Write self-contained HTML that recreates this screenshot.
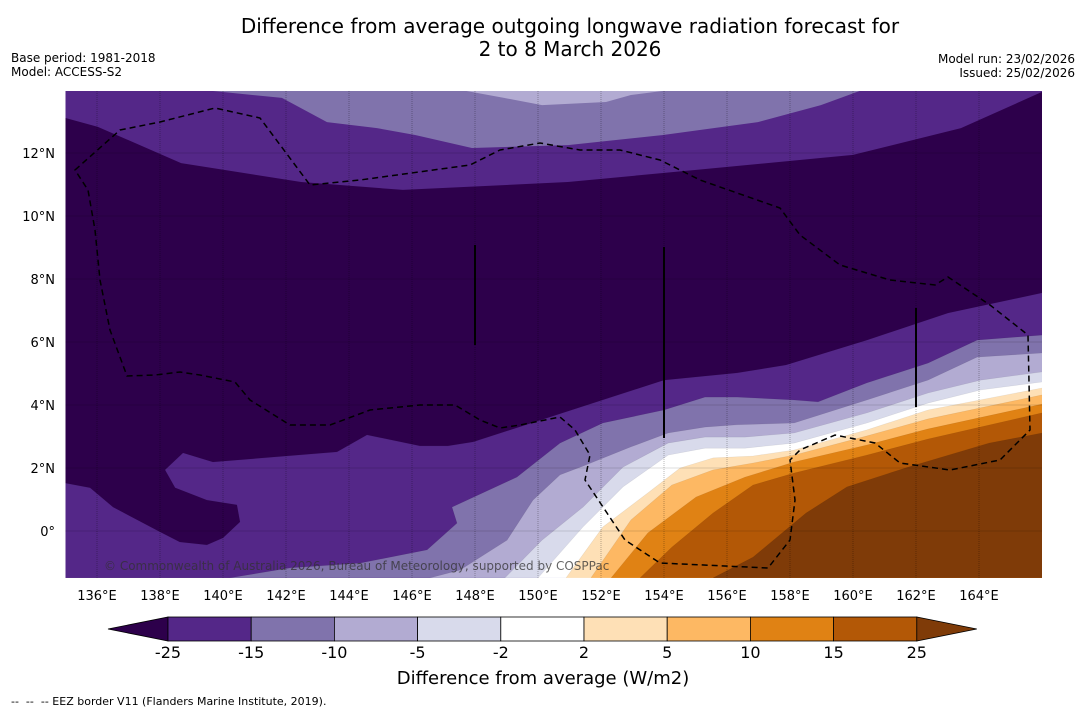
<!DOCTYPE html>
<html><head><meta charset="utf-8"><style>
body{margin:0;background:#fff;width:1085px;height:713px;overflow:hidden;font-family:"DejaVu Sans","Liberation Sans",sans-serif;}
svg{position:absolute;left:0;top:0;font-family:"DejaVu Sans","Liberation Sans",sans-serif;}
</style></head><body>
<svg id="chart" width="1085" height="713"></svg>
<script>
const levels=[-25,-15,-10,-5,-2,2,5,10,15,25];
const bandColors=["#2d004b","#542788","#8073ac","#b2abd2","#d8daeb","#ffffff","#fee0b6","#fdb863","#e08214","#b35806","#7f3b08"];
const lonTicks=[136,138,140,142,144,146,148,150,152,154,156,158,160,162,164];
const latTicks=[0,2,4,6,8,10,12];
// south-east contours (lon/lat), filled toward bottom-right
const c1=[[135,1.52],[135.78,1.37],[136.51,0.76],[138.0,-0.03],[138.63,-0.35],[139.49,-0.44],[140.0,-0.22],[140.54,0.29],[140.44,0.83],[139.49,0.98],[138.48,1.37],[138.16,1.94],[138.73,2.48],[139.68,2.19],[143.62,2.51],[144.57,3.05],[146.25,2.70],[147.14,2.70],[147.94,2.83],[150.38,3.62],[154.0,4.79],[156.32,5.02],[157.87,5.27],[160.44,6.06],[163.02,6.92],[166,7.56]];
const c2=[[140.22,-1.49],[142.13,-1.17],[144.35,-1.02],[146.48,-0.60],[147.43,0.25],[147.27,0.76],[149.33,1.71],[150.70,2.79],[152.06,3.43],[154.0,3.84],[155.30,4.25],[156.32,4.25],[158.13,4.16],[158.89,4.10],[160.44,4.70],[162.38,5.33],[163.94,6.06],[166,6.22]];
const c3=[[146.57,-1.49],[147.52,-1.24],[149.02,-0.29],[149.84,0.98],[150.70,1.78],[151.43,2.06],[152.95,2.67],[154.13,3.11],[155.30,3.30],[156.32,3.37],[158.13,3.43],[160.44,4.16],[162.38,4.79],[163.94,5.52],[166,5.65]];
const c4=[[148.95,-1.49],[150.13,-0.29],[151.43,0.76],[152.70,2.03],[154.13,2.79],[155.30,2.98],[156.57,2.98],[158.13,3.11],[160.44,3.75],[162.38,4.38],[164.06,4.79],[166,5.05]];
const c5=[[150.0,-1.49],[151.43,0.13],[152.70,1.40],[154.13,2.41],[155.30,2.63],[156.57,2.63],[158.13,2.79],[160.44,3.43],[162.38,4.06],[164.06,4.48],[166,4.73]];
const c6=[[150.89,-1.49],[152.06,0.13],[153.49,1.21],[154.51,2.0],[155.56,2.32],[156.83,2.38],[158.13,2.57],[160.44,3.21],[162.38,3.84],[166,4.54]];
const c7=[[151.68,-1.49],[152.95,0.35],[154.25,1.46],[155.56,1.94],[156.83,2.16],[158.13,2.41],[160.44,3.02],[162.38,3.56],[166,4.32]];
const c8=[[152.32,-1.49],[153.49,-0.06],[155.02,1.08],[156.57,1.71],[158.13,2.19],[160.44,2.73],[162.38,3.24],[166,4.03]];
const c9=[[153.24,-1.49],[154.25,-0.51],[155.56,0.57],[156.83,1.46],[158.13,1.84],[160.44,2.41],[162.38,2.92],[166,3.75]];
const c10=[[155.56,-1.49],[156.83,-0.83],[158.51,0.57],[159.81,1.40],[161.75,2.03],[164.32,2.79],[166,3.11]];
// northern contours, filled toward the top
const n1=[[135,13.11],[136.03,12.83],[138.67,11.68],[140.06,11.46],[142.48,11.08],[145.71,10.83],[150.95,11.08],[154.98,11.46],[160.0,11.94],[163.43,12.79],[166,13.94]];
const n2=[[139.65,13.97],[141.87,13.75],[143.30,12.98],[144.89,12.79],[146.10,12.57],[147.90,12.16],[150.95,12.25],[153.97,12.57],[156.98,12.98],[158.98,13.52],[160.22,13.97]];
const n3=[[147.71,13.97],[148.92,13.75],[150.13,13.52],[152.16,13.62],[152.95,13.84],[153.97,13.97]];

const NS="http://www.w3.org/2000/svg";
const svg=document.getElementById('chart');
const X0=65.5,Y0=531,PX=31.5;
const LON0=135,LON1=166,LAT0=-1.49,LAT1=13.97;
function xs(lon){return X0+(lon-LON0)*PX;}
function ys(lat){return Y0-lat*PX;}
function mk(t,a,p){const e=document.createElementNS(NS,t);for(const k in a)e.setAttribute(k,a[k]);(p||svg).appendChild(e);return e;}
function pts(arr){return arr.map(p=>xs(p[0]).toFixed(1)+","+ys(p[1]).toFixed(1)).join(" ");}

const defs=mk('defs',{});
const cp=mk('clipPath',{id:'plotclip'},defs);
mk('rect',{x:xs(LON0),y:ys(LAT1),width:xs(LON1)-xs(LON0),height:ys(LAT0)-ys(LAT1)},cp);
const g=mk('g',{'clip-path':'url(#plotclip)'});



const base=mk('rect',{x:xs(LON0),y:ys(LAT1),width:xs(LON1)-xs(LON0),height:ys(LAT0)-ys(LAT1),fill:bandColors[0]},g);



[[n1,1],[n2,2],[n3,3]].forEach(([c,i])=>{
  let poly=c.slice();
  if(c===n1){poly.push([LON1,LAT1+1],[LON0,LAT1+1]);}
  else{poly.push([c[c.length-1][0],LAT1+1],[c[0][0],LAT1+1]);}
  const p=mk('polygon',{points:pts(poly),fill:bandColors[i]},g);
  
  
});
const seContours=[c1,c2,c3,c4,c5,c6,c7,c8,c9,c10];
seContours.forEach((c,i)=>{
  let poly=c.slice();
  poly.push([LON1+1,c[c.length-1][1]],[LON1+1,LAT0-1]);
  poly.push([c[0][0],LAT0-1]);
  if(c[0][0]<=LON0)poly.push([LON0-1,LAT0-1],[LON0-1,c[0][1]]);
  const p=mk('polygon',{points:pts(poly),fill:bandColors[i+1]},g);
  
  
  mk('polyline',{points:pts(c),fill:'none',stroke:'rgba(0,0,0,0.08)','stroke-width':0.6},g);
});
lonTicks.forEach(l=>{const e=mk('line',{x1:xs(l),x2:xs(l),y1:ys(LAT1),y2:ys(LAT0),stroke:'rgba(0,0,0,0.35)','stroke-width':0.8,'stroke-dasharray':'1,1'},g);

});
latTicks.forEach(l=>{const e=mk('line',{x1:xs(LON0),x2:xs(LON1),y1:ys(l),y2:ys(l),stroke:'rgba(0,0,0,0.35)','stroke-width':0.8,'stroke-dasharray':'1,1'},g);

});
[[475,245,345],[664,247,438],[916,308,407]].forEach(a=>{const e=mk('line',{x1:a[0],x2:a[0],y1:a[1],y2:a[2],stroke:'#000','stroke-width':2},g);

});
const eez=mk('path',{d:"M75,170 L120,130 L160,122 L215,108 L260,118 L310,185 L360,180 L470,165 L500,150 L540,143 L580,150 L620,150 L660,160 L700,180 L780,208 L800,235 L840,265 L890,280 L935,285 L948,277 L990,305 L1028,335 L1030,430 L1000,460 L950,470 L900,463 L875,443 L835,435 L800,450 L790,460 L795,500 L790,540 L768,568 L660,563 L625,540 L585,480 L590,455 L575,430 L560,417 L520,425 L500,428 L480,420 L455,405 L420,405 L370,410 L330,425 L290,425 L250,400 L235,382 L200,375 L180,372 L155,375 L127,376 L110,330 L100,280 L95,230 L88,190 Z",fill:'none',stroke:'#000','stroke-width':1.5,'stroke-dasharray':'6,4'},g);


const cr=mk('text',{x:104,y:570,'font-size':12,fill:'rgba(50,50,50,0.75)'},g);
cr.textContent="© Commonwealth of Australia 2026, Bureau of Meteorology, supported by COSPPac";



lonTicks.forEach(l=>{const t=mk('text',{x:xs(l),y:600,'font-size':13,'text-anchor':'middle',fill:'#000'});t.textContent=l+"°E";

});
latTicks.forEach(l=>{const t=mk('text',{x:55,y:ys(l)+5,'font-size':13,'text-anchor':'end',fill:'#000'});t.textContent=l===0?"0°":l+"°N";

});

const cbX0=168,cbW=83.2,cbY=617,cbH=24;
const lt=mk('polygon',{points:`${cbX0},${cbY} ${cbX0},${cbY+cbH} 108,${cbY+cbH/2}`,fill:bandColors[0],stroke:'#000','stroke-width':0.8});


for(let i=0;i<levels.length-1;i++){
  const r=mk('rect',{x:cbX0+i*cbW,y:cbY,width:cbW,height:cbH,fill:bandColors[i+1],stroke:'#000','stroke-width':0.8});
  
  
}
const cbEnd=cbX0+(levels.length-1)*cbW;
const rt=mk('polygon',{points:`${cbEnd},${cbY} ${cbEnd},${cbY+cbH} ${cbEnd+60},${cbY+cbH/2}`,fill:bandColors[10],stroke:'#000','stroke-width':0.8});


levels.forEach((v,i)=>{const t=mk('text',{x:cbX0+i*cbW,y:658,'font-size':16,'text-anchor':'middle',fill:'#000'});t.textContent=v;

});
</script>
<div style="position:absolute;left:120px;width:900px;top:15px;text-align:center;font-size:20px;line-height:23px;color:#000">Difference from average outgoing longwave radiation forecast for<br>2 to 8 March 2026</div>
<div style="position:absolute;left:11px;top:51px;font-size:12px;line-height:14px">Base period: 1981-2018<br>Model: ACCESS-S2</div>
<div style="position:absolute;right:10px;top:52px;font-size:12px;line-height:14px;text-align:right">Model run: 23/02/2026<br>Issued: 25/02/2026</div>
<div style="position:absolute;left:293px;width:500px;top:668px;text-align:center;font-size:18px">Difference from average (W/m2)</div>
<div style="position:absolute;left:11px;top:695px;font-size:11px">--&nbsp; --&nbsp; -- EEZ border V11 (Flanders Marine Institute, 2019).</div>
</body></html>
